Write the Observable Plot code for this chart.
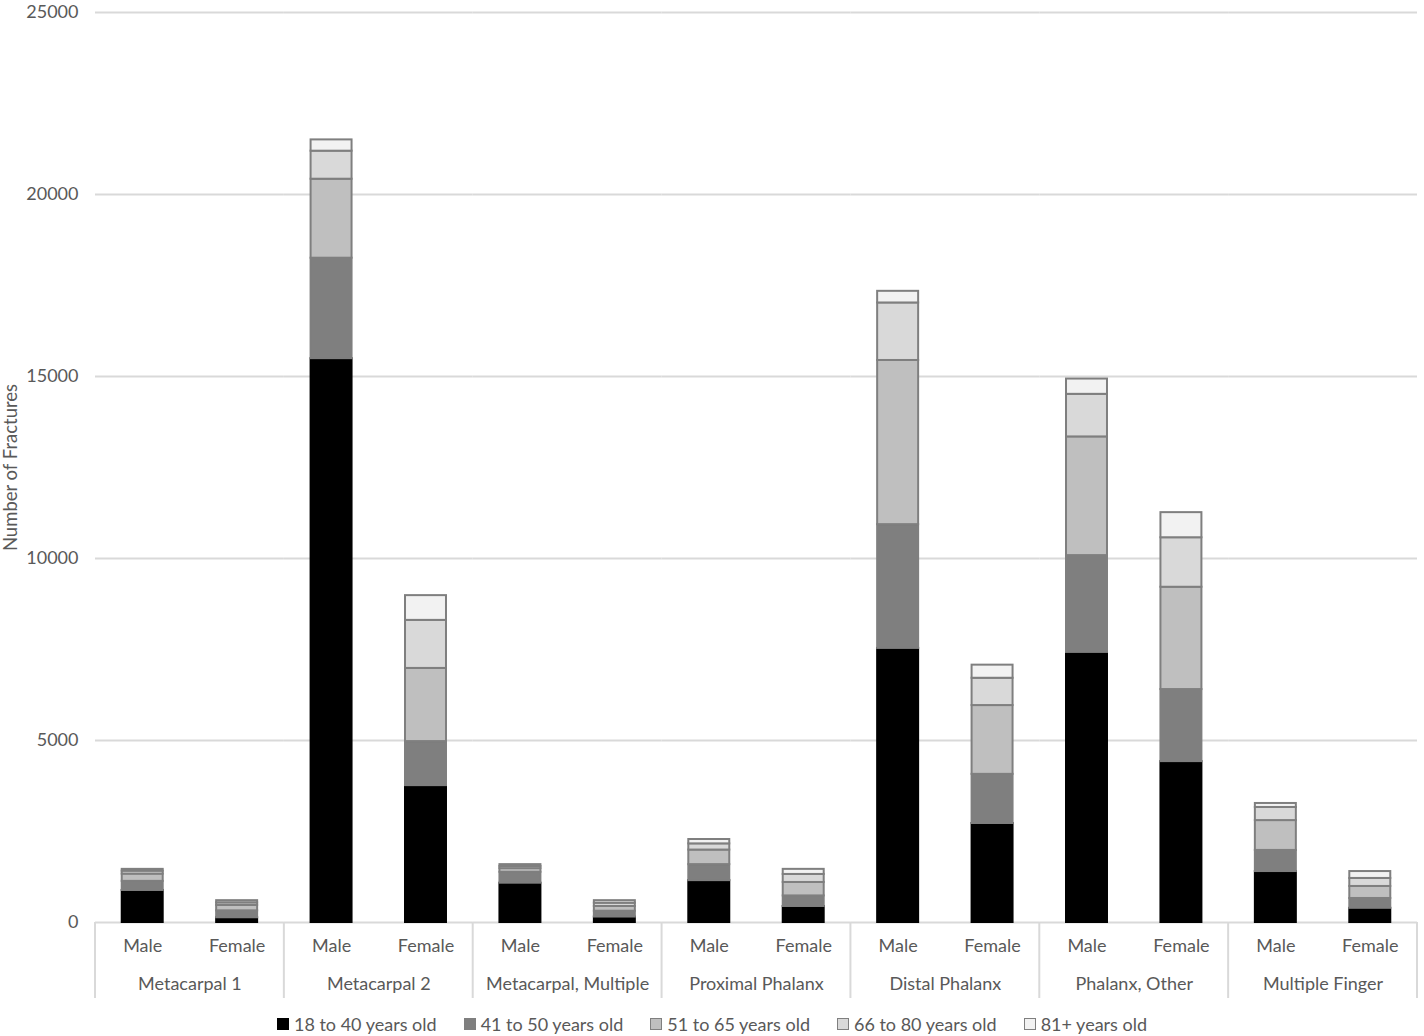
<!DOCTYPE html>
<html><head><meta charset="utf-8">
<script src="https://cdn.jsdelivr.net/npm/d3@7"></script>
<script src="https://cdn.jsdelivr.net/npm/@observablehq/plot@0.6"></script>
<style>
body{margin:0;background:#fff;font-family:Lato, "Open Sans", sans-serif;}
#legend{display:flex;justify-content:center;gap:27px;margin-top:5px;height:22px;line-height:22px;font-size:18px;color:#595959;}
.item{display:flex;align-items:center;gap:5px}
.sw{width:10px;height:10px;border:1px solid #7f7f7f;}
</style></head><body><div id="chart"></div><div id="legend"></div>
<script>
const groups = ["Metacarpal 1","Metacarpal 2","Metacarpal, Multiple","Proximal Phalanx","Distal Phalanx","Phalanx, Other","Multiple Finger"];
const sexes = ["Male","Female"];
const ages = ["18 to 40 years old","41 to 50 years old","51 to 65 years old","66 to 80 years old","81+ years old"];
// values in order: group1 Male, group1 Female, group2 Male, ...
const age18to40 = [880, 130, 15490, 3760, 1080, 150, 1150, 440, 7530, 2720, 7420, 4420, 1400, 390];
const age41to50 = [250, 190, 2760, 1210, 300, 160, 440, 290, 3400, 1350, 2660, 1980, 580, 270];
const age51to65 = [200, 150, 2170, 2010, 100, 130, 400, 370, 4510, 1890, 3260, 2810, 820, 330];
const age66to80 = [80, 70, 770, 1320, 60, 90, 170, 220, 1580, 750, 1170, 1360, 360, 220];
const age81plus = [50, 60, 310, 680, 50, 70, 120, 140, 320, 360, 420, 690, 110, 190];
const yTicks = [0, 5000, 10000, 15000, 20000, 25000];
const yLabel = "Number of Fractures";

const fills = ["#000000","#7f7f7f","#bfbfbf","#d9d9d9","#f2f2f2"];
const strokes = ["#000000","#7f7f7f","#7f7f7f","#7f7f7f","#7f7f7f"];
const textColor = "#595959";

const series = [age18to40, age41to50, age51to65, age66to80, age81plus];
const rows = [];
const sexRows = [];
groups.forEach((g, gi) => sexes.forEach((s, si) => {
  const k = gi * 2 + si;
  sexRows.push({group: g, sex: s});
  ages.forEach((a, ai) => rows.push({group: g, sex: s, age: a, ai, value: series[ai][k]}));
}));

const chart = Plot.plot({
  width: 1424, height: 1008,
  marginLeft: 95, marginRight: 7, marginTop: 12, marginBottom: 86,
  style: {fontFamily: "Lato, 'Open Sans', sans-serif", fontSize: "18px", color: textColor, background: "#fff"},
  fx: {domain: groups, padding: 0, round: false, axis: null, label: null},
  x: {domain: sexes, paddingInner: 0.566, paddingOuter: 0.283, round: false, axis: null, label: null},
  y: {domain: [0, 25000], ticks: yTicks, tickSize: 0, tickPadding: 17, tickFormat: d => String(d), label: null},
  color: {type: "identity"},
  marks: [
    Plot.ruleY(yTicks, {stroke: "#d9d9d9", strokeWidth: 2}),
    Plot.barY(rows, {fx: "group", x: "sex", y: "value", fill: d => fills[d.ai], stroke: d => strokes[d.ai], strokeWidth: 2}),
    Plot.text(sexRows, {fx: "group", x: "sex", text: "sex", frameAnchor: "bottom", dy: 29, fill: textColor}),
    Plot.text(groups, {fx: d => d, text: d => d, frameAnchor: "bottom", dy: 67, fill: textColor}),
    Plot.text([yLabel], {fx: () => groups[0], text: d => d, frameAnchor: "left", rotate: -90, dx: -84, textAnchor: "middle", fontSize: 18.5, fill: textColor})
  ]
});

// group separators below the baseline, positioned through the fx and y scales
const fx = chart.scale("fx"), ys = chart.scale("y");
const n = fx.domain.length, r0 = fx.range[0], r1 = fx.range[1], step = (r1 - r0) / n;
const y0 = ys.apply(0);
d3.select(chart).append("g")
  .attr("stroke", "#d9d9d9").attr("stroke-width", 2)
  .selectAll("line").data(d3.range(n + 1)).join("line")
  .attr("x1", i => r0 + i * step).attr("x2", i => r0 + i * step)
  .attr("y1", y0).attr("y2", y0 + 76);

document.getElementById("chart").appendChild(chart);

const legend = d3.select("#legend");
ages.forEach((a, i) => {
  const it = legend.append("div").attr("class", "item");
  it.append("div").attr("class", "sw").style("background", fills[i]).style("border-color", strokes[i]);
  it.append("span").text(a);
});
</script>
</body></html>
